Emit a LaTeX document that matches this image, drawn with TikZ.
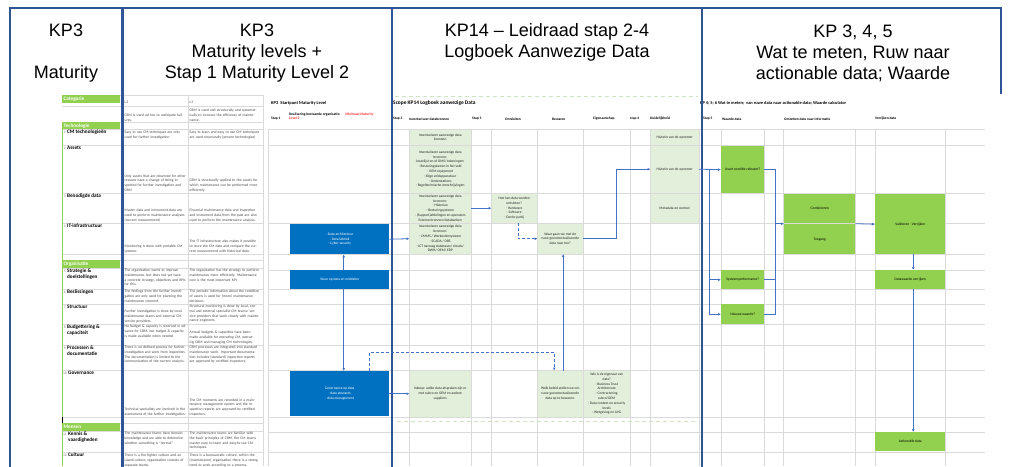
\documentclass[tikz,border=0pt]{standalone}
\usepackage{fontspec}
\setmainfont{Liberation Sans}
\newfontfamily\gridfont{Carlito}
\usepackage{tikz}
\usetikzlibrary{arrows.meta, positioning, calc}
\usepackage{xcolor}
\definecolor{panelblue}{HTML}{2F5597}
\definecolor{gridgray}{HTML}{DADADA}
\definecolor{catgreen}{HTML}{92D050}
\definecolor{loggreen}{HTML}{E2EFDA}
\definecolor{boxblue}{HTML}{0070C0}
\definecolor{arrowblue}{HTML}{4472C4}
\definecolor{warnred}{HTML}{FF2A2A}
\definecolor{selgreen}{HTML}{CFE3C2}
\definecolor{numgray}{HTML}{7F7F7F}

\tikzset{
  panel/.style={draw=panelblue, line width=2.6pt},
  gridline/.style={draw=gridgray, line width=0.6pt},
  selline/.style={draw=selgreen, line width=1pt, dash pattern=on 4pt off 3pt},
  headtxt/.style={font=\fontsize{18}{21}\selectfont, align=center, inner sep=0pt},
  celltxt/.style={font=\gridfont\fontsize{3.7}{4.9}\selectfont, text=black!72, align=left, inner sep=0pt},
  l2txt/.style={celltxt, text width=62pt},
  l3txt/.style={celltxt, text width=70pt},
  cattxt/.style={font=\gridfont\bfseries\fontsize{5.2}{5.6}\selectfont, align=left, inner sep=0pt, anchor=north west},
  catnum/.style={font=\gridfont\fontsize{3.6}{4}\selectfont, text=numgray, inner sep=0pt, anchor=north east},
  grphead/.style={fill=catgreen, text=white, font=\gridfont\bfseries\fontsize{5.2}{6}\selectfont, anchor=north west, minimum width=58pt, text width=55pt, inner xsep=1.5pt, inner ysep=0pt, align=left},
  coltxt/.style={font=\gridfont\bfseries\fontsize{3.6}{4.6}\selectfont, inner sep=0pt, anchor=west, align=left},
  titletxt/.style={font=\gridfont\bfseries\fontsize{#1}{#1}\selectfont, inner sep=0pt, anchor=west},
  cellbox/.style={anchor=north west, inner sep=0pt, align=center, font=\gridfont\fontsize{3.6}{4.8}\selectfont},
  bluebox/.style={cellbox, fill=boxblue, text=white},
  logbox/.style={cellbox, fill=loggreen, text=black!85},
  valbox/.style={cellbox, fill=catgreen, text=black},
  arr/.style={draw=arrowblue, line width=0.8pt, -{Latex[length=3pt,width=2.8pt]}},
  link/.style={draw=arrowblue, line width=0.8pt},
}

\begin{document}
\begin{tikzpicture}[x=1pt, y=-1pt]
\useasboundingbox (0,0) rectangle (1009,466);
\clip (0,0) rectangle (1009,466);
\fill[white] (0,0) rectangle (1009,466);

% panel headers
\node[headtxt] (hMat) at (66,53) {KP3\\[21pt]Maturity};
\node[headtxt] (hLevels) at (257,53) {KP3\\Maturity levels +\\Stap 1 Maturity Level 2};
\node[headtxt] (hLog) at (547,42) {KP14 – Leidraad stap 2-4\\Logboek Aanwezige Data};
\node[headtxt] (hMeten) at (853,53) {KP 3, 4, 5\\Wat te meten, Ruw naar\\actionable data; Waarde};

% grid
\foreach \ry in {95,106,122,129,145,193,223,254,260,268,289,304,324,345,370,417,423,431,452}
  \draw[gridline] (62,\ry) -- (263,\ry);
\foreach \ry in {129,145,193,223,254,270,289,304,324,345,370,417,432,452}
  \draw[gridline] (268,\ry) -- (985,\ry);
\foreach \cx in {188,263}
  \draw[gridline] (\cx,95) -- (\cx,466);
\foreach \cx in {268,409,471,491,537,583,630,650,699,721,764,783,855,875,945}
  \draw[gridline] (\cx,129) -- (\cx,466);
\draw[catgreen, line width=1pt] (62,129) -- (62,466);
\draw[black, line width=0.8pt] (62,129) |- (120,122);
\draw[black, line width=0.8pt] (62,268) |- (120,260);
\draw[black, line width=0.8pt] (62,431) -- (62,417);
\draw[selline] (395,96) -- (698,96);
\draw[selline] (397,421) -- (698,421);

% categories
\node[grphead, minimum height=8pt] (catHead) at (62,95) {Categorie};
\node[grphead, minimum height=7pt] (catTech) at (62,122) {Technologie};
\node[grphead, minimum height=8pt] (catOrg) at (62,260) {Organisatie};
\node[grphead, minimum height=8pt] (catMens) at (62,423) {Mensen};

\node[catnum] at (66,131) {1}; \node[cattxt] (cat1) at (67,130) {CM technologieën};
\node[catnum] at (66,147) {2}; \node[cattxt] (cat2) at (67,146) {Assets};
\node[catnum] at (66,195) {3}; \node[cattxt] (cat3) at (67,194) {Benodigde data};
\node[catnum] at (66,225) {4}; \node[cattxt] (cat4) at (67,224) {IT-infrastructuur};
\node[catnum] at (66,270) {5}; \node[cattxt] (cat5) at (67,269) {Strategie \&\\doelstellingen};
\node[catnum] at (66,291) {6}; \node[cattxt] (cat6) at (67,290) {Beslissingen};
\node[catnum] at (66,306) {7}; \node[cattxt] (cat7) at (67,305) {Structuur};
\node[catnum] at (66,326) {8}; \node[cattxt] (cat8) at (67,325) {Budgettering \&\\capaciteit};
\node[catnum] at (66,347) {9}; \node[cattxt] (cat9) at (67,346) {Processen \&\\documentatie};
\node[catnum] at (67,372) {10}; \node[cattxt] (cat10) at (68,371) {Governance};
\node[catnum] at (67,433) {11}; \node[cattxt] (cat11) at (68,432) {Kennis \&\\vaardigheden};
\node[catnum] at (67,454) {12}; \node[cattxt] (cat12) at (68,453) {Cultuur};

% maturity levels L2 / L3
\node[celltxt, anchor=west] (hL2) at (124.5,102.5) {L2};
\node[celltxt, anchor=west] (hL3) at (189.5,102.5) {L3};
\node[l2txt, anchor=south west] (l2r0) at (124.5,121.5) {CBM is used ad hoc to anticipate failures.};
\node[l3txt, anchor=south west] (l3r0) at (189.5,121.5) {CBM is used and structurally and systematically to increase the efficiency of maintenance.};
\node[l2txt, anchor=north west] (l2r1) at (124.5,130.5) {Easy to use CM techniques are only used for further investigation};
\node[l3txt, anchor=north west] (l3r1) at (189.5,130.5) {Easy to learn and easy to use CM techniques are used structurally (proven technologies)};
\node[l2txt, anchor=south west] (l2r2) at (124.5,192) {Only assets that are observed for other reasons have a change of being inspected for further investigation and CBM};
\node[l3txt, anchor=south west] (l3r2) at (189.5,192) {CBM is structurally applied to the assets for which maintenance can be performed more efficiently};
\node[l2txt, anchor=south west] (l2r3) at (124.5,222) {Master data and instrument data are used to perform maintenance analyses (current measurement)};
\node[l3txt, anchor=south west] (l3r3) at (189.5,222) {Financial maintenance data and inspection and instrument data from the past are also used to perform the maintenance analysis.};
\node[l2txt, anchor=south west] (l2r4) at (124.5,253) {Monitoring is done with portable CM systems};
\node[l3txt, anchor=south west] (l3r4) at (189.5,253) {The IT infrastructure also makes it possible to store the CM data and compare the current measurement with historical data.};
\node[l2txt, anchor=north west] (l2r5) at (124.5,268.5) {The organisation wants to improve maintenance, but does not yet have a concrete strategy, objectives and KPIs for this.};
\node[l3txt, anchor=north west] (l3r5) at (189.5,268.5) {The organisation has the strategy to perform maintenance more efficiently. Maintenance cost is the most important KPI.};
\node[l2txt, anchor=north west] (l2r6) at (124.5,289.5) {The findings from the further investigation are only used for planning the maintenance moment.};
\node[l3txt, anchor=north west] (l3r6) at (189.5,289.5) {The periodic information about the condition of assets is used for (more) maintenance decisions.};
\node[l2txt, anchor=south west] (l2r7) at (124.5,323.5) {Further investigation is done by local maintenance teams and external CM service providers.};
\node[l3txt, anchor=north west] (l3r7) at (189.5,304.5) {Structural monitoring is done by local, central and external specialist CM teams/ service providers that work closely with maintenance engineers.};
\node[l2txt, anchor=north west] (l2r8) at (124.5,324.5) {No budget \& capacity is reserved in advance for CBM, but budget \& capacity is made available when needed};
\node[l3txt, anchor=south west] (l3r8) at (189.5,344.5) {Annual budgets \& capacities have been made available for executing CM, executing CBM and managing CM technologies.};
\node[l2txt, anchor=north west] (l2r9) at (124.5,345.5) {There is no defined process for further investigation and work from inspection. The documentation is limited to the communication of the current analysis.};
\node[l3txt, anchor=north west] (l3r9) at (189.5,345.5) {CBM processes are integrated into standard maintenance work. Important documentation includes (standard) inspection reports are approved by certified inspectors.};
\node[l2txt, anchor=south west] (l2r10) at (124.5,416.5) {Technical specialists are involved in the assessment of the further investigation.};
\node[l3txt, anchor=south west] (l3r10) at (189.5,416.5) {The CM moments are recorded in a maintenance management system and the inspection reports are approved by certified inspectors.};
\node[l2txt, anchor=north west] (l2r11) at (124.5,431.5) {The maintenance teams have domain knowledge and are able to determine whether something is "normal"};
\node[l3txt, anchor=north west] (l3r11) at (189.5,431.5) {The maintenance teams are familiar with the basic principles of CBM, the CM teams master easy to learn and easy-to-use CM techniques.};
\node[l2txt, anchor=north west] (l2r12) at (124.5,453.5) {There is a fire fighter culture and an island culture, organisation consists of separate teams.};
\node[l3txt, anchor=north west] (l3r12) at (189.5,453.5) {There is a bureaucratic culture, within the (maintenance) organisation there is a strong need to work according to a process.};

% titles and column heads
\node[titletxt=4.5] (tStart) at (271,103) {KP3\ \ Startpunt Maturity Level};
\node[titletxt=5.4] (tScope) at (393,103) {Scope KP14 Logboek aanwezige Data};
\node[titletxt=4.4] (tMeten) at (700,103) {KP 4; 5; 6 Wat te meten;\ \ van ruwe data naar actionable data; Waarde calculator};
\node[coltxt] (sStap1) at (271,119) {Stap 1};
\node[coltxt, anchor=north west] (sReal) at (289,112.5) {Realisering bestaande organisatie:\hspace{5pt}\textcolor{warnred}{Minimaal Maturity}\\\textcolor{warnred}{Level 2}};
\node[coltxt] (sStap2) at (393,119) {Stap 2};
\node[coltxt] (sInv) at (409,119) {Inventariseer databronnen};
\node[coltxt] (sStap3) at (472,119) {Stap 3};
\node[coltxt] (sOnt) at (505,119) {Ontsluiten};
\node[coltxt] (sBew) at (552,119) {Bewaren};
\node[coltxt] (sEig) at (593,119) {Eigenaarschap};
\node[coltxt] (sStap4) at (630,119) {stap 4};
\node[coltxt] (sDuid) at (650,119) {Duidelijkheid};
\node[coltxt] (sStap5) at (703,119) {Stap 5};
\node[coltxt] (sWaarde) at (722,119) {Waarde data};
\node[coltxt] (sOmz) at (784,119) {Omzetten data naar informatie};
\node[coltxt] (sVerr) at (875,119) {Verrijken data};

% stap 1 boxes
\node[bluebox, minimum width=99pt, minimum height=30pt] (bArch) at (290,224) {- Data architectuur\\- Data fabriek\\- Cyber security};
\node[bluebox, minimum width=99pt, minimum height=19pt] (bStuur) at (290,270) {Stuur op data en middelen};
\node[bluebox, minimum width=99pt, minimum height=45pt] (bGov) at (290,371) {Governance op data\\- data stewards\\- data management};

% logboek boxes
\node[logbox, minimum width=61pt, minimum height=15pt] (gInv1) at (409.5,129.5) {Inventariseer aanwezige data\\bronnen};
\node[logbox, minimum width=61pt, minimum height=47pt] (gInv2) at (409.5,145.5) {Inventariseer aanwezige data\\bronnen:\\Assetlijst en of DMS/ tekeningen:\\- Besturingskasten in het veld\\- OEM equipment\\- Edge veldapparatuur\\- Onderstations\\- Regeltechnische omschrijvingen};
\node[logbox, minimum width=61pt, minimum height=29pt] (gInv3) at (409.5,193.5) {Inventariseer aanwezige data\\bronnen:\\- Historian\\- Besturingsysteem\\- (Support)afdelingen en operators\\Externe bronnen/databanken};
\node[logbox, minimum width=61pt, minimum height=30pt] (gInv4) at (409.5,223.5) {Inventariseer aanwezige data\\bronnen:\\- CMMS / Werkordersysteem\\- SCADA / OBS\\- ICT navraag databases/ clouds/\\DWH/ OEM/ ERP};
\node[logbox, minimum width=61pt, minimum height=46pt] (gInkoop) at (409.5,370.5) {Inkoop: welke data afspraken zijn er\\met subco en OEM en andere\\suppliers};
\node[logbox, minimum width=45pt, minimum height=29pt] (gOntsl) at (491.5,193.5) {Hoe kan data worden\\ontsloten?\\- Hardware\\- Software\\- Derde partij};
\node[logbox, minimum width=45pt, minimum height=30pt] (gWaar) at (537.5,223.5) {Waar gaan we met de\\ruwe gecontextualiseerde\\data naar toe?};
\node[logbox, minimum width=45pt, minimum height=46pt] (gBeleid) at (537.5,370.5) {Welk beleid stellen we om\\ruwe gecontextualiseerde\\data op te bewaren.};
\node[logbox, minimum width=46pt, minimum height=46pt] (gEigen) at (583.5,370.5) {Wie is de eigenaar van\\data?\\- Business Trust\\Architecture\\- Contractering\\subco/OEM\\- Data context en security\\levels\\- Wetgeving en AVG};
\node[logbox, minimum width=48pt, minimum height=15pt] (gHist1) at (650.5,129.5) {Historie van de opnemer};
\node[logbox, minimum width=48pt, minimum height=47pt] (gHist2) at (650.5,145.5) {Historie van de opnemer};
\node[logbox, minimum width=48pt, minimum height=29pt] (gMeta) at (650.5,193.5) {Metadata en context};

% waarde boxes
\node[valbox, minimum width=43pt, minimum height=47pt] (wAsset) at (721,146) {Asset conditie relevant?};
\node[valbox, minimum width=43pt, minimum height=19pt] (wSys) at (721,270) {Systeemperformance?};
\node[valbox, minimum width=43pt, minimum height=20pt] (wNieuw) at (721,304) {Nieuwe waarde?};
\node[valbox, minimum width=71pt, minimum height=29pt] (cComb) at (784,194) {Combineren};
\node[valbox, minimum width=71pt, minimum height=30pt] (cToeg) at (784,224) {Toegang};
\node[valbox, minimum width=70pt, minimum height=60pt] (vVal) at (875,194) {Valideren - Verrijken};
\node[valbox, minimum width=70pt, minimum height=19pt] (vDatw) at (875,270) {Datawaarde verrijken};
\node[valbox, minimum width=70pt, minimum height=19pt] (vAct) at (875,432) {Actionable data};

% panel frames
\draw[panel] (10,470) -- (10,8) -- (1001,8) -- (1001,94);
\draw[panel, line width=3.4pt] (122.5,8) -- (122.5,470);
\draw[panel] (392,8) -- (392,470);
\draw[panel] (702,8) -- (702,470);

% connectors
\draw[arr] (bArch.east) -- (gInv4.west);
\draw[arr] ([xshift=4pt]bStuur.north) -- ([xshift=4pt]bArch.south);
\draw[arr] ([xshift=4pt]bStuur.south) -- ([xshift=4pt]bGov.north);
\draw[arr] (bGov.east) -- (gInkoop.west);
\draw[arr, dash pattern=on 3pt off 2pt] ([xshift=30pt]bGov.north) -- ++(0,-19) -| ([xshift=-6pt]gBeleid.north);
\draw[arr] (gInv3.east) -- (gOntsl.west);
\draw[arr, dash pattern=on 3pt off 2pt] ([xshift=4pt]gOntsl.south) |- (gWaar.west);
\draw[arr] (gWaar.east) -- ++(33,0) |- (gHist2.west);
\draw[arr] ([xshift=3pt]gBeleid.north) -- ([xshift=3pt]gWaar.south);
\draw[arr] (gHist2.east) -- (wAsset.west);
\coordinate (split) at ($(gHist2.east)+(10,0)$);
\draw[arr] (split) |- (wSys.west);
\draw[arr] (split) |- (wNieuw.west);
\coordinate (cIn) at ($(cComb.south west)!0.5!(cToeg.north west)$);
\coordinate (cOut) at ($(cComb.south east)!0.5!(cToeg.north east)$);
\draw[arr] (wAsset.east) -| ([xshift=-9pt]cIn) -- (cIn);
\draw[link] (wSys.east) -| ([xshift=-9pt]cIn);
\draw[link] (wNieuw.east) -| ([xshift=-9pt]cIn);
\draw[arr] (cOut) -- (vVal.west);
\draw[arr] ([xshift=3pt]vVal.south) -- ([xshift=3pt]vDatw.north);
\draw[arr] ([xshift=3pt]vDatw.south) -- ([xshift=3pt]vAct.north);
\end{tikzpicture}
\end{document}
